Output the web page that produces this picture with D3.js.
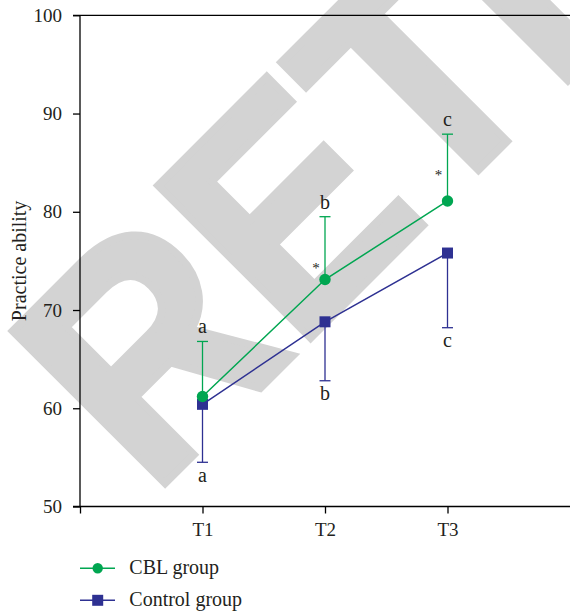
<!DOCTYPE html>
<html>
<head>
<meta charset="utf-8">
<script src="https://cdn.jsdelivr.net/npm/d3@7"></script>
<style>
html,body{margin:0;padding:0;background:#fff;}
svg{display:block;}
</style>
</head>
<body>
<svg id="chart" width="570" height="613"></svg>
<script>
// ---- data ----
const categories = ["T1", "T2", "T3"];
const cblMean = [61.2, 73.1, 81.1];
const cblErr = [5.6, 6.4, 6.8];          // upward error bar
const ctrlMean = [60.4, 68.8, 75.8];
const ctrlErr = [5.9, 6.0, 7.6];         // downward error bar
const cblLetters = ["a", "b", "c"];
const ctrlLetters = ["a", "b", "c"];
const starValues = [null, 74.5, 84.0];   // significance marks (y value)
const yTicks = [50, 60, 70, 80, 90, 100];
const seriesNames = ["CBL group", "Control group"];
const watermark = "RETRACTED";

const green = "#00a651", navy = "#2e3192", grey = "#d3d3d3";
const serif = "'Liberation Serif','DejaVu Serif',serif";

const svg = d3.select("#chart");
const x = d3.scaleLinear().domain([0, 4]).range([80, 570]);
const y = d3.scaleLinear().domain([50, 100]).range([506.5, 15.3]);

// watermark (behind)
svg.append("text")
  .attr("transform", "translate(151.4,496.9) rotate(-45) scale(0.91,1)")
  .attr("font-family", "'Liberation Sans',Arial,sans-serif")
  .attr("font-weight", "bold")
  .attr("font-size", 313)
  .attr("fill", grey)
  .attr("stroke", grey)
  .attr("stroke-width", 8)
  .text(watermark);

// axes
const yAxis = d3.axisLeft(y).tickValues(yTicks).tickSize(7).tickPadding(11).tickFormat(d3.format("d"));
const gy = svg.append("g").attr("transform", `translate(${x(0)},0)`).call(yAxis);
const xAxis = d3.axisBottom(x).tickValues([0, 1, 2, 3]).tickSize(7).tickPadding(9)
  .tickFormat(d => d === 0 ? "" : categories[d - 1]);
const gx = svg.append("g").attr("transform", `translate(0,${y(50)})`).call(xAxis);
// top frame line
svg.append("line").attr("x1", x(0) - 7).attr("x2", x(4)).attr("y1", y(100)).attr("y2", y(100))
  .attr("stroke", "#000").attr("stroke-width", 1.3);
[gx, gy].forEach(g => {
  g.select(".domain").remove();
  g.selectAll(".tick line").attr("stroke", "#000").attr("stroke-width", 1.3);
  g.selectAll(".tick text").attr("font-family", serif).attr("font-size", 19).attr("fill", "#231f20");
});
svg.append("line").attr("x1", x(0)).attr("x2", x(0)).attr("y1", y(100)).attr("y2", y(50))
  .attr("stroke", "#000").attr("stroke-width", 1.3);
svg.append("line").attr("x1", x(0) - 7).attr("x2", x(4)).attr("y1", y(50)).attr("y2", y(50))
  .attr("stroke", "#000").attr("stroke-width", 1.3);

// y label
svg.append("text")
  .attr("transform", `translate(26,${(y(50) + y(100)) / 2}) rotate(-90)`)
  .attr("text-anchor", "middle")
  .attr("font-family", serif).attr("font-size", 20).attr("fill", "#231f20")
  .text("Practice ability");

const line = d3.line().x((d, i) => x(i + 1)).y(d => y(d));

// error bars
function errBars(mean, err, dir, color) {
  const g = svg.append("g").attr("stroke", color).attr("stroke-width", 1.3);
  mean.forEach((m, i) => {
    const end = m + dir * err[i];
    g.append("line").attr("x1", x(i + 1)).attr("x2", x(i + 1)).attr("y1", y(m)).attr("y2", y(end));
    g.append("line").attr("x1", x(i + 1) - 5.5).attr("x2", x(i + 1) + 5.5).attr("y1", y(end)).attr("y2", y(end));
  });
}
errBars(ctrlMean, ctrlErr, -1, navy);
errBars(cblMean, cblErr, 1, green);

// lines
svg.append("path").datum(ctrlMean).attr("d", line).attr("fill", "none").attr("stroke", navy).attr("stroke-width", 1.5);
svg.append("path").datum(cblMean).attr("d", line).attr("fill", "none").attr("stroke", green).attr("stroke-width", 1.5);

// markers
svg.append("g").selectAll("rect").data(ctrlMean).join("rect")
  .attr("x", (d, i) => x(i + 1) - 5.5).attr("y", d => y(d) - 5.5)
  .attr("width", 11).attr("height", 11).attr("fill", navy);
svg.append("g").selectAll("circle").data(cblMean).join("circle")
  .attr("cx", (d, i) => x(i + 1)).attr("cy", d => y(d)).attr("r", 5.7).attr("fill", green);

// letters
svg.append("g").selectAll("text").data(cblLetters).join("text")
  .attr("x", (d, i) => x(i + 1)).attr("y", (d, i) => y(cblMean[i] + cblErr[i]) - 8)
  .attr("text-anchor", "middle").attr("font-family", serif).attr("font-size", 20).attr("fill", "#231f20")
  .text(d => d);
svg.append("g").selectAll("text").data(ctrlLetters).join("text")
  .attr("x", (d, i) => x(i + 1)).attr("y", (d, i) => y(ctrlMean[i] - ctrlErr[i]) + 19.5)
  .attr("text-anchor", "middle").attr("font-family", serif).attr("font-size", 20).attr("fill", "#231f20")
  .text(d => d);
// stars
svg.append("g").selectAll("text").data(starValues.map((v, i) => ({ v, i })).filter(d => d.v !== null)).join("text")
  .attr("x", d => x(d.i + 1) - 9).attr("y", d => y(d.v) + 7.5)
  .attr("text-anchor", "middle").attr("font-family", serif).attr("font-size", 15).attr("fill", "#231f20")
  .text("*");

// legend
const legend = svg.append("g");
const legendItems = [
  { name: seriesNames[0], color: green, shape: "circle" },
  { name: seriesNames[1], color: navy, shape: "square" }
];
legendItems.forEach((it, k) => {
  const ly = 568.3 + k * 32;
  const g = legend.append("g").attr("transform", `translate(0,${ly})`);
  g.append("line").attr("x1", 80).attr("x2", 115).attr("y1", 0).attr("y2", 0)
    .attr("stroke", it.color).attr("stroke-width", 1.5);
  if (it.shape === "circle") g.append("circle").attr("cx", 97.7).attr("cy", 0).attr("r", 5.2).attr("fill", it.color);
  else g.append("rect").attr("x", 92.2).attr("y", -5.5).attr("width", 11).attr("height", 11).attr("fill", it.color);
  g.append("text").attr("x", 129.3).attr("y", 5.5)
    .attr("font-family", serif).attr("font-size", 20).attr("fill", "#231f20").text(it.name);
});
</script>
</body>
</html>
